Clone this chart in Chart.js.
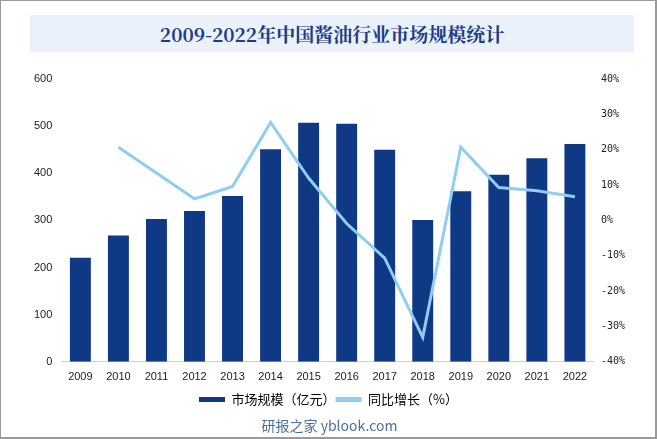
<!DOCTYPE html>
<html>
<head>
<meta charset="utf-8">
<script src="https://cdn.jsdelivr.net/npm/chart.js@4"></script>
<style>
  html, body { margin: 0; padding: 0; background: #fff; }
  #wrap { position: relative; width: 657px; height: 439px; box-sizing: border-box; border: 1px solid #9a9a9a; border-right-width: 2px; border-bottom-width: 2px; overflow: hidden; }
  #title { position: absolute; left: 29px; top: 14px; width: 604px; height: 37px; background: #eaf1fb; color: #1d3c87; font-family: "Noto Serif CJK SC", "Noto Sans CJK SC", serif; font-weight: bold; font-size: 19px; line-height: 37px; text-align: center; }
  #foot { position: absolute; left: 0; width: 657px; top: 414px; text-align: center; color: #4d6f9c; font-family: "Noto Sans CJK SC", "Liberation Sans", sans-serif; font-size: 14px; }
  canvas { position: absolute; left: 0; top: 0; }
</style>
</head>
<body>
<div id="wrap">
  <canvas id="chart" width="655" height="437"></canvas>
  <div id="title">2009-2022年中国酱油行业市场规模统计</div>
  <div id="foot">研报之家 yblook.com</div>
</div>
<script>
const years = ['2009', '2010', '2011', '2012', '2013', '2014', '2015', '2016', '2017', '2018', '2019', '2020', '2021', '2022'];
const marketSize = [221, 268, 303, 320, 352, 451, 507, 505, 450, 301, 362, 397, 432, 462];
const growth = [null, 20.7, 13.4, 6.1, 9.6, 27.7, 12.0, -0.9, -10.7, -33.1, 20.7, 9.3, 8.4, 6.7];

const barColor = '#0f3885';
const lineColor = '#8fcdf1';

const ctx = document.getElementById('chart').getContext('2d');

const chart = new Chart(ctx, {
    type: 'bar',
    data: {
        labels: years,
        datasets: [{
            label: '市场规模（亿元）',
            data: marketSize,
            backgroundColor: barColor,
            yAxisID: 'y',
            order: 2,
            barPercentage: 0.55,
            categoryPercentage: 1
        }, {
            type: 'line',
            label: '同比增长（%）',
            data: growth,
            borderColor: lineColor,
            backgroundColor: lineColor,
            borderWidth: 3,
            pointRadius: 0,
            tension: 0,
            yAxisID: 'y1',
            order: 1
        }]
    },
    options: {
        responsive: false,
        animation: false,
        layout: { padding: { top: 78, left: 24, right: 24, bottom: 22 } },
        plugins: {
            tooltip: { enabled: false },
            legend: {
                position: 'bottom',
                labels: {
                    boxWidth: 26,
                    boxHeight: 5,
                    padding: 0,
                    color: '#222',
                    font: { family: '"Noto Sans CJK SC", sans-serif', size: 13 },
                    generateLabels: (c) => c.data.datasets.map((ds, i) => ({
                        text: ds.label,
                        fillStyle: ds.type === 'line' ? lineColor : barColor,
                        strokeStyle: ds.type === 'line' ? lineColor : barColor,
                        lineWidth: 0,
                        datasetIndex: i
                    }))
                }
            }
        },
        scales: {
            x: {
                grid: { display: false, drawTicks: false },
                border: { color: '#d0d0d0' },
                ticks: { color: '#222', padding: 9, font: { family: '"Liberation Sans", Arial, sans-serif', size: 11 } }
            },
            y: {
                position: 'left',
                min: 0,
                max: 600,
                grid: { display: false, drawTicks: false },
                border: { display: false },
                ticks: { stepSize: 100, color: '#222', padding: 9, font: { family: '"Liberation Sans", Arial, sans-serif', size: 11 } }
            },
            y1: {
                position: 'right',
                min: -40,
                max: 40,
                grid: { display: false, drawTicks: false },
                border: { display: false },
                ticks: {
                    stepSize: 10,
                    color: '#222',
                    padding: 7,
                    font: { family: '"DejaVu Sans Mono", monospace', size: 10 },
                    callback: (v) => v + '%'
                }
            }
        }
    }
});
</script>
</body>
</html>
